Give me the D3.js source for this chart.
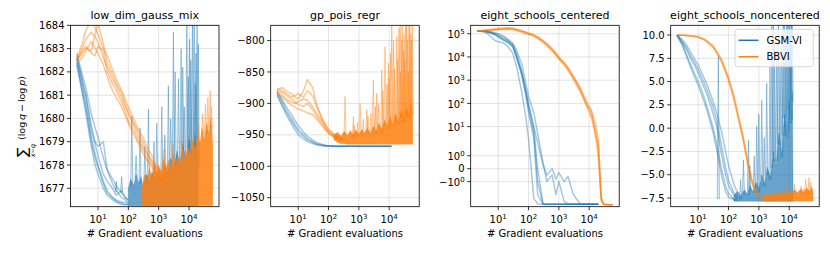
<!DOCTYPE html>
<html><head><meta charset="utf-8">
<script src="https://cdn.jsdelivr.net/npm/d3@7"></script>
<style>body{margin:0;background:#fff}svg{display:block}text{font-family:"DejaVu Sans",sans-serif;fill:#000}</style>
</head><body><svg id="c" width="830" height="253"></svg>
<script>
// ---------------- DATA ----------------
const titles = ["low_dim_gauss_mix","gp_pois_regr","eight_schools_centered","eight_schools_noncentered"];
const seriesNames = ["GSM-VI","BBVI"];
const xLabel = "# Gradient evaluations";
const xTicks = [10,100,1000,10000];
const xTickExp = ["1","2","3","4"];
const evals = [2,3,4,6,8,10,15,20,30,40,60,80,100,150,200,300,400,600,800,1000,1500,2000,3000,5000,8000,12000,16000,20000,25000,30000,45000,60000];

// panel 1: low_dim_gauss_mix
const gaussYTicks = [1677,1678,1679,1680,1681,1682,1683,1684];
const gaussBlueRuns = [
 [1682.5,1681.4,1680.6,1679.2,1678.5,1678.0,1677.3,1676.9,1676.6,1676.45,1676.35,1676.3,1676.3],
 [1682.4,1681.1,1680.2,1678.8,1678.0,1677.6,1677.0,1676.7,1676.5,1676.4,1676.3,1676.3,1676.3],
 [1682.7,1681.7,1681.0,1679.7,1679.0,1678.8,1679.0,1677.8,1677.2,1676.9,1676.6,1676.5,1676.4],
 [1682.6,1681.6,1680.9,1679.5,1678.9,1678.4,1677.6,1677.3,1677.0,1676.7,1676.9,1676.6,1676.5],
 [1682.3,1681.2,1680.4,1679.0,1678.3,1677.9,1677.2,1676.8,1676.6,1676.5,1676.4,1676.4,1676.35],
 [1682.8,1681.9,1681.3,1680.2,1679.6,1679.2,1678.3,1677.8,1677.4,1677.1,1676.8,1676.6,1676.5]
];
const gaussOrangeRuns = [
 [1682.5,1683.0,1683.4,1683.7,1683.5,1683.3,1682.6,1682.2,1681.7,1681.4,1680.9,1680.5,1680.2,1679.7,1679.3,1678.8,1678.5,1678.1,1677.8,1677.6,1677.3,1677.1],
 [1682.5,1682.8,1683.0,1682.9,1683.6,1684.1,1683.2,1682.4,1681.9,1681.5,1681.1,1680.6,1680.3,1679.8,1679.5,1679.0,1678.6,1678.2,1677.9,1677.7,1677.4,1677.2],
 [1682.4,1682.6,1682.9,1683.3,1683.0,1682.8,1682.3,1681.8,1681.2,1680.9,1680.5,1680.1,1679.8,1679.3,1679.0,1678.5,1678.2,1677.9,1677.6,1677.4,1677.1,1677.0],
 [1682.6,1683.2,1683.8,1684.2,1683.9,1683.6,1683.0,1682.7,1682.1,1681.7,1681.2,1680.8,1680.5,1680.0,1679.6,1679.2,1678.8,1678.4,1678.0,1677.8,1677.5,1677.3],
 [1682.5,1682.9,1683.1,1682.8,1682.7,1683.1,1682.9,1682.0,1681.5,1681.2,1680.7,1680.3,1679.9,1679.5,1679.1,1678.7,1678.3,1678.0,1677.7,1677.5,1677.2,1677.0]
];
const gaussBlueBand = [[100,1676.25,1677.0],[120,1676.25,1677.4],[150,1676.25,1677.1],[180,1676.25,1677.6],[220,1676.25,1677.2],[260,1676.25,1677.5],[300,1676.25,1677.1],[400,1676.25,1677.6],[500,1676.25,1677.2],[600,1676.25,1677.7],[800,1676.25,1677.3],[1000,1676.25,1677.8],[1300,1676.25,1677.4],[1600,1676.25,1678.0],[2000,1676.25,1677.6],[2500,1676.25,1678.3],[3200,1676.25,1677.8],[4000,1676.25,1678.6],[5000,1676.25,1678.0],[6300,1676.25,1678.9],[8000,1676.25,1678.2],[10000,1676.25,1679.1],[13000,1676.25,1678.4],[16000,1676.25,1679.3],[20000,1676.25,1678.0]];
const gaussBlueSpikes = [[40,1677.3],[60,1677.5],[130,1680.1],[180,1678.4],[244,1679.6],[350,1678.8],[460,1680.4],[700,1679.0],[870,1679.8],[1270,1680.5],[1600,1679.3],[2090,1681.4],[2500,1680.0],[3060,1683.7],[3500,1682.0],[4500,1681.7],[5500,1683.0],[6250,1682.2],[7000,1680.5],[8500,1684.5],[9500,1681.8],[10500,1683.4],[11500,1682.5],[13000,1684.5],[14800,1685],[16000,1681.5],[17000,1682.8],[18500,1684.2],[20400,1683.2]];
const gaussOrangeBand = [[280,1676.25,1677.0],[350,1676.25,1677.6],[420,1676.25,1677.3],[500,1676.25,1677.9],[600,1676.25,1677.4],[720,1676.25,1678.1],[850,1676.25,1677.6],[1000,1676.25,1678.0],[1200,1676.25,1677.7],[1450,1676.25,1678.3],[1750,1676.25,1677.8],[2100,1676.25,1678.2],[2500,1676.25,1677.9],[3000,1676.25,1678.5],[3600,1676.25,1678.0],[4300,1676.25,1678.4],[5200,1676.25,1678.1],[6200,1676.25,1678.7],[7500,1676.25,1678.2],[9000,1676.25,1678.8],[11000,1676.25,1678.4],[13000,1676.25,1679.1],[16000,1676.25,1678.6],[19000,1676.25,1679.3],[23000,1676.25,1678.9],[27000,1676.25,1679.6],[32000,1676.25,1679.1],[38000,1676.25,1679.8],[45000,1676.25,1679.3],[52000,1676.25,1680.0],[58000,1676.25,1679.4],[61000,1676.25,1678.8]];
const gaussOrangeSpikes = [[1500,1678.7],[3000,1678.9],[6000,1679.0],[12000,1679.4],[20000,1679.8],[28000,1680.2],[35000,1680.6],[42000,1680.9],[50000,1681.2],[55000,1680.5]];

// panel 2: gp_pois_regr
const gpYTicks = [-1050,-1000,-950,-900,-850,-800];
const gpBlueRuns = [
 [-887,-903,-914,-928,-938,-945,-953,-958,-962,-965,-966.5,-967.2,-967.5,-967.8,-968,-968,-968,-968,-968,-968,-968,-968,-968,-968,-968,-968],
 [-885,-905,-918,-933,-943,-950,-957,-961,-964,-966,-967.5,-968,-968,-968,-968,-968,-968,-968,-968,-968,-968,-968,-968,-968,-968,-968],
 [-882,-895,-905,-918,-928,-935,-946,-952,-958,-962,-965,-966.5,-967.5,-968,-968,-968,-968,-968,-968,-968,-968,-968,-968,-968,-968,-968],
 [-880,-898,-910,-924,-934,-941,-950,-956,-961,-964,-966,-967,-967.5,-968,-968,-968,-968,-968,-968,-968,-968,-968,-968,-968,-968,-968]
];
const gpOrangeRuns = [
 [-880,-883,-887,-893,-898,-902,-905,-900,-910,-920,-932,-940,-945,-952,-955,-958],
 [-878,-875,-880,-885,-890,-893,-880,-862,-875,-900,-925,-935,-943,-950,-954,-957],
 [-882,-888,-893,-898,-900,-897,-893,-895,-905,-915,-928,-938,-947,-953,-956,-959],
 [-877,-880,-884,-890,-887,-885,-890,-880,-888,-905,-922,-933,-941,-948,-953,-956],
 [-884,-890,-896,-903,-906,-909,-912,-915,-918,-925,-935,-943,-948,-954,-957,-960]
];
const gpOrangeBand = [[150,-958,-950],[200,-962,-946],[260,-964,-952],[330,-964,-944],[420,-965,-951],[520,-965,-943],[650,-965,-950],[800,-965,-942],[1000,-965,-949],[1250,-965,-941],[1550,-965,-948],[1900,-965,-939],[2400,-965,-947],[3000,-965,-936],[3700,-965,-945],[4600,-965,-931],[5700,-965,-942],[7000,-965,-926],[8700,-965,-938],[10800,-965,-921],[13000,-965,-935],[16000,-965,-916],[20000,-965,-930],[25000,-965,-911],[30000,-965,-925],[37000,-965,-906],[45000,-965,-920],[53000,-965,-901],[60000,-965,-915]];
const gpOrangeSpikes = [[351,-889],[660,-921],[700,-935],[900,-930],[1100,-900],[1400,-925],[1820,-910],[2000,-920],[2500,-915],[3000,-863],[3500,-905],[3900,-884],[4500,-900],[5700,-847],[6200,-880],[7300,-810],[8500,-870],[9400,-836],[10000,-860],[11000,-820],[12200,-770],[14000,-800],[15000,-845],[17800,-794],[19000,-830],[21000,-780],[23000,-765],[24000,-850],[26000,-800],[27000,-770],[29500,-815],[31000,-790],[33000,-830],[35000,-760],[38000,-765],[40000,-800],[43000,-850],[45000,-760],[48000,-775],[52000,-790],[55000,-800],[58000,-770]];

// panel 3: eight_schools_centered (symlog axis)
const escYTicks = [-1,0,1,10,100,1000,10000,100000];
const escYTickLabels = [["\u221210","0"],["0",""],["10","0"],["10","1"],["10","2"],["10","3"],["10","4"],["10","5"]];
const escBlueRuns = [
 [1.3e5,1.3e5,1.25e5,1.1e5,9.5e4,8e4,6e4,5e4,3.5e4,1.5e4,2500,400,80,8,0,-5,-5.3,-5.3,-5.3,-5.3,-5.3,-5.3,-5.3,-5.3,-5.3,-5.3,-5.3,-5.3],
 [1.3e5,1.25e5,1.1e5,7e4,5e4,4.5e4,4e4,3e4,1.5e4,4000,300,30,3,-3,-5,-5.3,-5.3,-5.3,-5.3,-5.3,-5.3,-5.3,-5.3,-5.3,-5.3,-5.3,-5.3,-5.3],
 [1.3e5,1.3e5,1.3e5,1.2e5,1.1e5,1e5,8e4,6e4,4e4,2e4,5000,800,200,40,5,0.5,-1,-0.5,-2,-1,-4,-5,-5.3,-5.3,-5.3,-5.3,-5.3,-5.3],
 [1.3e5,1.3e5,1.28e5,1.15e5,1e5,9e4,7e4,5.5e4,3e4,1e4,2000,400,100,10,2,0.3,-0.5,0,-0.8,-0.3,-1,-0.6,-2,-5,-5.3,-5.3,-5.3,-5.3],
 [1.3e5,1.28e5,1.2e5,1.05e5,9e4,7.2e4,5.2e4,4.2e4,2.8e4,1e4,1500,250,40,3,-2,-5.2,-5.3,-5.3,-5.3,-5.3,-5.3,-5.3,-5.3,-5.3,-5.3,-5.3,-5.3,-5.3],
 [1.3e5,1.3e5,1.22e5,1.05e5,9e4,7.5e4,5.5e4,4.5e4,3e4,1.2e4,2000,300,60,5,-1,-5.1,-5.3,-5.3,-5.3,-5.3,-5.3,-5.3,-5.3,-5.3,-5.3,-5.3,-5.3,-5.3]
];
const escOrangeRuns = [
 [1.3e5,1.35e5,1.4e5,1.45e5,1.5e5,1.55e5,1.6e5,1.65e5,1.6e5,1.45e5,1.25e5,1.1e5,1e5,8.5e4,6.8e4,4.6e4,3.4e4,2e4,1.3e4,9000,5000,3000,1300,380,110,30,8,1.5,-3.5,-5.3,-5.5,-5.5],
 [1.3e5,1.38e5,1.45e5,1.55e5,1.6e5,1.7e5,1.75e5,1.8e5,1.75e5,1.6e5,1.35e5,1.2e5,1.08e5,9e4,7.5e4,5e4,3.8e4,2.3e4,1.5e4,1e4,5800,3500,1500,450,140,45,14,3,-2.5,-5,-5.4,-5.5],
 [1.3e5,1.32e5,1.35e5,1.4e5,1.45e5,1.48e5,1.52e5,1.55e5,1.5e5,1.35e5,1.15e5,1e5,9.2e4,7.8e4,6.2e4,4.2e4,3e4,1.8e4,1.15e4,8000,4400,2600,1100,320,90,22,5,0.8,-4,-5.4,-5.5,-5.5],
 [1.3e5,1.36e5,1.42e5,1.5e5,1.55e5,1.6e5,1.68e5,1.7e5,1.65e5,1.5e5,1.3e5,1.15e5,1.02e5,8.7e4,7e4,4.8e4,3.5e4,2.1e4,1.4e4,9500,5400,3300,1400,500,80,50,4,2,-3,-5.2,-5.5,-5.5]
];

// panel 4: eight_schools_noncentered
const esnYTicks = [-7.5,-5,-2.5,0,2.5,5,7.5,10];
const esnBlueRuns = [
 [10,9.2,8.5,7.3,6.6,5.9,4.5,3.5,1.7,0.3,-3.0,-5.0,-6.2,-7.2,-7.55],
 [10,9.0,8.0,6.6,5.7,5.0,3.5,2.2,0.2,-1.5,-4.5,-6.2,-7.0,-7.6,-7.7],
 [10,9.5,9.0,8.0,7.3,6.8,5.5,4.6,3.0,1.8,-0.5,-2.5,-4.0,-6.0,-7.0],
 [10,9.3,8.7,7.6,6.9,6.3,5.0,4.0,2.4,1.0,-2.0,-4.2,-5.6,-6.9,-7.4],
 [9.9,8.9,7.8,6.3,5.3,4.6,3.0,1.8,-0.3,-2.2,-5.2,-6.8,-7.4,-7.7,-7.75]
];
const esnOrangeRuns = [
 [10,9.97,9.95,9.9,9.85,9.78,9.55,9.3,8.8,8.2,7.2,6.1,5.3,3.3,1.5,-1.0,-3.2,-5.8,-6.8,-7.25,-7.5,-7.6],
 [10,9.98,9.96,9.92,9.87,9.8,9.6,9.35,8.9,8.3,7.35,6.3,5.5,3.5,1.7,-0.8,-3.0,-5.6,-6.7,-7.2,-7.5,-7.6],
 [10,9.96,9.93,9.88,9.82,9.75,9.5,9.2,8.7,8.1,7.05,5.95,5.1,3.1,1.3,-1.2,-3.4,-6.0,-6.9,-7.3,-7.55,-7.65]
];
const esnBlueBand = [[150,-7.85,-7.2],[200,-7.85,-6.8],[260,-7.85,-7.3],[330,-7.85,-6.6],[420,-7.85,-7.1],[520,-7.85,-6.2],[650,-7.85,-6.9],[800,-7.85,-5.8],[1000,-7.85,-6.5],[1250,-7.85,-5.0],[1550,-7.85,-6.0],[1900,-7.85,-4.2],[2400,-7.85,-5.3],[3000,-7.85,-2.5],[3700,-7.85,-4.0],[4600,-7.85,-0.5],[5700,-7.85,-2.8],[7000,-7.85,1.5],[8700,-7.85,-1.0],[10000,-7.85,3.0],[11500,-7.85,0.5],[12800,-7.85,4.0],[13500,-7.85,-7.0]];
const esnBlueSpikes = [[46,7.7],[250,-5.5],[310,-3.4],[452,-1.3],[500,-4.0],[700,-3.0],[850,0.2],[1000,1.5],[1250,3.0],[1500,-1.0],[1820,4.8],[2330,6.6],[2700,11],[3000,12],[3300,9],[3900,8.4],[4400,12],[5000,7],[5700,10.2],[6400,12],[7000,12],[7600,9],[8300,12],[9000,12],[9800,12],[10700,12],[11200,10],[11800,12],[12500,12]];
const esnOrangeBand = [[1500,-7.85,-7.2],[2000,-7.85,-7.0],[2600,-7.85,-7.3],[3300,-7.85,-6.9],[4300,-7.85,-7.2],[5500,-7.85,-6.8],[7000,-7.85,-7.1],[9000,-7.85,-6.7],[11500,-7.85,-7.0],[15000,-7.85,-6.6],[19000,-7.85,-6.9],[24000,-7.85,-6.5],[30000,-7.85,-6.9],[38000,-7.85,-6.4],[47000,-7.85,-6.8],[56000,-7.85,-6.3],[61000,-7.85,-6.9]];
const esnOrangeSpikes = [[3000,-6.6],[8000,-6.2],[15000,-6.0],[25000,-6.2],[30000,-6.5],[35000,-5.5],[45000,-5.3],[52000,-5.8]];

// ---------------- CHART ----------------
const blue = "#1f77b4", orange = "#ff7f0e";
const axTop = 25.3, axBot = 206.7, axW = 148.5;
const axLefts = [70.5, 270.7, 470.7, 670.7];
const xDomain = [Math.pow(10, 0.093), Math.pow(10, 4.99)];
const LT = 2, LSC = 1 / (1 - 1 / 10);
const symT = v => Math.abs(v) <= LT ? v * LSC : Math.sign(v) * LT * (LSC + Math.log10(Math.abs(v) / LT));
const fmtMinus = s => s.replace("-", "\u2212");

const panels = [
 {title: titles[0], yDomain: [1676.21, 1684.0], yTicks: gaussYTicks, yFmt: d => fmtMinus(String(d)),
  blueRuns: gaussBlueRuns, orangeRuns: gaussOrangeRuns, blueBand: gaussBlueBand, blueSpikes: gaussBlueSpikes, orangeBand: gaussOrangeBand, orangeSpikes: gaussOrangeSpikes},
 {title: titles[1], yDomain: [-1064.3, -775.8], yTicks: gpYTicks, yFmt: d => fmtMinus(String(d)),
  blueRuns: gpBlueRuns, orangeRuns: gpOrangeRuns, orangeBand: gpOrangeBand, orangeSpikes: gpOrangeSpikes},
 {title: titles[2], symlog: true, yDomain: [-6.7, 2.3e5], yTicks: escYTicks, yLabels: escYTickLabels,
  blueRuns: escBlueRuns, orangeRuns: escOrangeRuns},
 {title: titles[3], yDomain: [-8.43, 11.04], yTicks: esnYTicks, yFmt: d => fmtMinus(d.toFixed(1)),
  blueRuns: esnBlueRuns, orangeRuns: esnOrangeRuns, blueBand: esnBlueBand, blueSpikes: esnBlueSpikes, orangeBand: esnOrangeBand, orangeSpikes: esnOrangeSpikes, legend: true}
];

const svg = d3.select("#c");
const defs = svg.append("defs");

panels.forEach((p, i) => {
  const L = axLefts[i], R = L + axW;
  const x = d3.scaleLog().domain(xDomain).range([L, R]);
  const lin = d3.scaleLinear().domain(p.symlog ? p.yDomain.map(symT) : p.yDomain).range([axBot, axTop]);
  const y = p.symlog ? (v => lin(symT(v))) : (v => lin(v));
  const g = svg.append("g");

  // grid
  g.selectAll(".gx").data(xTicks).enter().append("line")
    .attr("x1", d => x(d)).attr("x2", d => x(d)).attr("y1", axTop).attr("y2", axBot)
    .attr("stroke", "#b0b0b0").attr("stroke-opacity", 0.45).attr("stroke-width", 0.8);
  g.selectAll(".gy").data(p.yTicks).enter().append("line")
    .attr("x1", L).attr("x2", R).attr("y1", d => y(d)).attr("y2", d => y(d))
    .attr("stroke", "#b0b0b0").attr("stroke-opacity", 0.45).attr("stroke-width", 0.8);

  // clip
  defs.append("clipPath").attr("id", "clip" + i).append("rect")
    .attr("x", L).attr("y", axTop).attr("width", axW).attr("height", axBot - axTop);
  const dg = g.append("g").attr("clip-path", `url(#clip${i})`);

  const line = d3.line().x((d, j) => x(evals[j])).y(d => y(d));
  const area = d3.area().x(d => x(d[0])).y0(d => y(d[1])).y1(d => y(d[2]));

  function drawMethod(runs, band, spikes, color, bandOp, runOp) {
    runs.forEach(r => {
      dg.append("path").attr("d", line(r)).attr("fill", "none")
        .attr("stroke", color).attr("stroke-width", 1.5).attr("stroke-opacity", runOp)
        .attr("stroke-linejoin", "round");
    });
    if (band) {
      dg.append("path").attr("d", area(band)).attr("fill", color).attr("fill-opacity", bandOp)
        .attr("stroke", color).attr("stroke-opacity", 0.35).attr("stroke-width", 0.8);
      const base = d3.scaleLog().domain(band.map(d => d[0])).range(band.map(d => y(d[2]))).clamp(true);
      if (spikes) spikes.forEach(s => {
        const px = x(s[0]), b = base(s[0]) + 4, pk = y(s[1]);
        dg.append("path").attr("d", `M${px - 1.1},${b}L${px},${pk}L${px + 1.1},${b}`)
          .attr("fill", color).attr("fill-opacity", 0.15)
          .attr("stroke", color).attr("stroke-width", 0.8).attr("stroke-opacity", 0.5);
      });
    }
  }
  drawMethod(p.blueRuns, p.blueBand, p.blueSpikes, blue, 0.68, 0.4);
  drawMethod(p.orangeRuns, p.orangeBand, p.orangeSpikes, orange, 0.85, 0.45);

  // frame
  g.append("rect").attr("x", L).attr("y", axTop).attr("width", axW).attr("height", axBot - axTop)
    .attr("fill", "none").attr("stroke", "#000").attr("stroke-width", 0.8);

  // x ticks
  g.selectAll(".xt").data(xTicks).enter().append("line")
    .attr("x1", d => x(d)).attr("x2", d => x(d)).attr("y1", axBot).attr("y2", axBot + 3.5)
    .attr("stroke", "#000").attr("stroke-width", 0.8);
  xTicks.forEach((d, k) => {
    const t = g.append("text").attr("x", x(d)).attr("y", axBot + 16.5).attr("text-anchor", "middle").attr("font-size", 10);
    t.append("tspan").text("10");
    t.append("tspan").attr("dy", -4.2).attr("font-size", 7).text(xTickExp[k]);
  });
  // y ticks
  g.selectAll(".yt").data(p.yTicks).enter().append("line")
    .attr("x1", L - 3.5).attr("x2", L).attr("y1", d => y(d)).attr("y2", d => y(d))
    .attr("stroke", "#000").attr("stroke-width", 0.8);
  p.yTicks.forEach((d, k) => {
    const t = g.append("text").attr("x", L - 6).attr("y", y(d) + 3.6).attr("text-anchor", "end").attr("font-size", 10);
    if (p.yLabels) {
      const lb = p.yLabels[k];
      if (lb[1] === "") { t.text(lb[0]); }
      else {
        t.attr("y", y(d) + 4.2);
        t.append("tspan").text(lb[0]);
        t.append("tspan").attr("dy", -4.2).attr("font-size", 7).text(lb[1]);
      }
    } else t.text(p.yFmt(d));
  });

  // title & xlabel
  g.append("text").attr("x", (L + R) / 2).attr("y", 19).attr("text-anchor", "middle").attr("font-size", 11).text(p.title);
  g.append("text").attr("x", (L + R) / 2).attr("y", 236.5).attr("text-anchor", "middle").attr("font-size", 10).text(xLabel);

  if (p.legend) {
    const lx = 735, ly = 29.3;
    const lg = g.append("g");
    lg.append("rect").attr("x", lx).attr("y", ly).attr("width", 78.3).attr("height", 37.4).attr("rx", 2.5)
      .attr("fill", "#fff").attr("fill-opacity", 0.8).attr("stroke", "#cccccc").attr("stroke-width", 0.8);
    [[seriesNames[0], blue], [seriesNames[1], orange]].forEach((e, k) => {
      const yy = ly + 11 + k * 16.5;
      lg.append("line").attr("x1", lx + 3.5).attr("x2", lx + 23.5).attr("y1", yy).attr("y2", yy)
        .attr("stroke", e[1]).attr("stroke-width", 1.5);
      lg.append("text").attr("x", lx + 31.5).attr("y", yy + 3.6).attr("font-size", 10).text(e[0]);
    });
  }
});

// y label (rotated math-like text)
const yl = svg.append("g").attr("transform", "translate(27,157) rotate(-90)");
yl.append("text").attr("x", 0).attr("y", 0).attr("font-size", 14).text("\u2211");
const sub = yl.append("text").attr("x", 6.5).attr("y", 7.5).attr("text-anchor", "middle").attr("font-size", 6.5);
sub.append("tspan").attr("font-style", "italic").text("x");
sub.append("tspan").text("\u223C");
sub.append("tspan").attr("font-style", "italic").text("q");
const par = yl.append("text").attr("x", 17).attr("y", -2).attr("font-size", 9.5);
par.append("tspan").text("(log\u2009");
par.append("tspan").attr("font-style", "italic").text("q");
par.append("tspan").text("\u2009\u2212\u2009log\u2009");
par.append("tspan").attr("font-style", "italic").text("p");
par.append("tspan").text(")");
</script></body></html>
